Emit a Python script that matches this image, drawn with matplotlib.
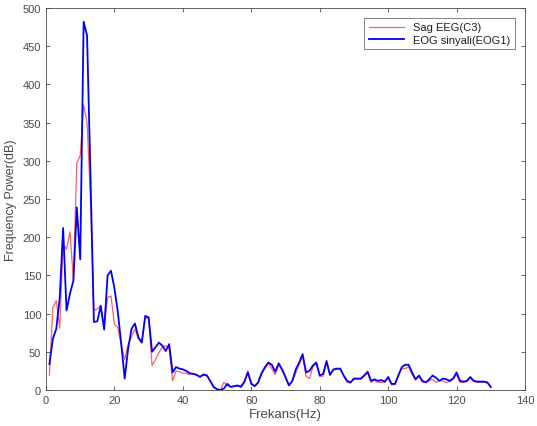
import numpy as np
import matplotlib
matplotlib.use("Agg")
import matplotlib.pyplot as plt

plt.rcParams['font.family'] = ['Liberation Sans', 'DejaVu Sans']

# frequency bins (Hz)
freqs = np.arange(1, 131)

eog = [34, 67, 80, 120, 212, 104, 126, 143, 239, 171,
       482, 464, 280, 89, 90, 110, 79, 150, 156, 133,
       102, 60, 15, 54, 80, 87, 69, 62, 97, 95,
       50, 56, 62, 58, 51, 60, 23, 30, 28, 27,
       25, 22, 21, 20, 17, 20, 19, 12, 4, 1,
       0, 2, 8, 4, 5, 6, 4, 11, 23, 8,
       5, 10, 22, 30, 36, 33, 24, 35, 27, 17,
       6, 12, 27, 36, 47, 23, 25, 32, 36, 19,
       21, 38, 20, 27, 28, 28, 19, 12, 10, 15,
       15, 15, 19, 24, 12, 14, 12, 13, 11, 17,
       8, 8, 19, 30, 33, 33, 23, 14, 19, 12,
       10, 14, 19, 16, 12, 15, 14, 12, 15, 23,
       12, 11, 12, 17, 12, 11, 11, 11, 10, 4]

eeg = [19, 108, 117, 81, 191, 184, 207, 145, 297, 307,
       373, 350, 250, 104, 106, 111, 82, 121, 123, 86,
       82, 58, 40, 60, 70, 80, 67, 62, 95, 93,
       32, 40, 49, 56, 58, 54, 12, 25, 24, 22,
       22, 20, 22, 19, 18, 21, 20, 11, 4, 1,
       0, 10, 6, 4, 5, 5, 6, 11, 25, 10,
       5, 9, 21, 28, 35, 28, 20, 33, 26, 16,
       6, 11, 22, 33, 45, 18, 15, 30, 35, 18,
       18, 36, 19, 26, 27, 27, 18, 10, 9, 14,
       14, 14, 18, 22, 10, 13, 10, 10, 10, 16,
       7, 7, 20, 28, 28, 30, 20, 13, 18, 10,
       10, 12, 14, 10, 12, 12, 10, 11, 14, 20,
       10, 10, 11, 16, 11, 10, 10, 10, 9, 4]

gray = '#4a4a4a'

fig = plt.figure(figsize=(5.37, 4.27), dpi=100)
ax = fig.add_axes([46 / 537, 1 - 391 / 427, 479 / 537, 382 / 427])

ax.plot(freqs, eeg, color='#ff6060', lw=0.9, label='Sag EEG(C3)')
ax.plot(freqs, eog, color='#0000ff', lw=1.3, label='EOG sinyali(EOG1)')

ax.set_xlim(0, 140)
ax.set_ylim(0, 500)
ax.set_xticks(np.arange(0, 141, 20))
ax.set_yticks(np.arange(0, 501, 50))
ax.tick_params(direction='in', top=True, right=True, labelsize=8,
               length=3, width=0.6, color=gray, labelcolor=gray)
for s in ax.spines.values():
    s.set_color(gray)
    s.set_linewidth(0.6)

ax.set_xlabel('Frekans(Hz)', fontsize=9.5, color=gray, labelpad=2)
ax.set_ylabel('Frequency Power(dB)', fontsize=9, color=gray, labelpad=4)

leg = ax.legend(loc='upper right', fontsize=8, fancybox=False,
                edgecolor=gray, handlelength=3.2, borderaxespad=0.9,
                borderpad=0.4, labelspacing=0.2)
leg.get_frame().set_linewidth(0.6)
for t in leg.get_texts():
    t.set_color('#202020')

fig.savefig('out.png', dpi=100)
